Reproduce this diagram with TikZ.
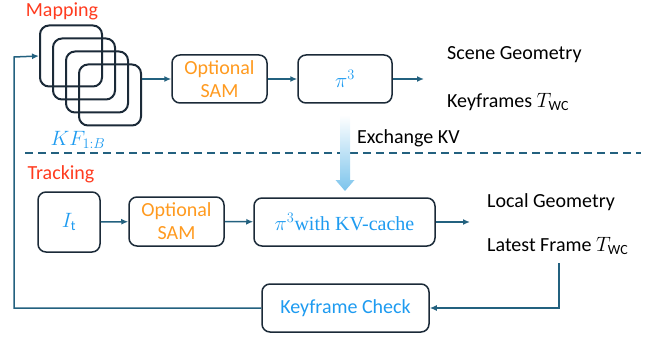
\documentclass[tikz,border=0pt]{standalone}
\usepackage{fontspec}
\setmainfont{Carlito}
\newfontfamily\camfont{Liberation Serif}
\usetikzlibrary{arrows.meta,calc}
\definecolor{boxline}{HTML}{1B2A38}
\definecolor{conn}{HTML}{23617F}
\definecolor{redlbl}{HTML}{FF3B1F}
\definecolor{orangelbl}{HTML}{FF9A1F}
\definecolor{bluelbl}{HTML}{1E9BF0}
\definecolor{kvblue}{HTML}{7CC4EC}
\tikzset{
  rbox/.style={draw=boxline, line width=1.5pt, rounded corners=8pt, align=center, inner sep=0pt},
  stackbox/.style={draw=boxline, line width=2pt, rounded corners=9pt, minimum width=62pt, minimum height=61pt},
  conline/.style={draw=conn, line width=1.5pt},
  conarrow/.style={conline, -{Latex[length=7pt,width=6pt]}},
  txt/.style={font=\fontsize{20}{23}\selectfont, inner sep=0pt},
  sectlbl/.style={txt, text=redlbl},
  outlbl/.style={txt, anchor=west, text=black},
}
\begin{document}
\begin{tikzpicture}[x=1pt,y=-1pt]
\useasboundingbox (0,0) rectangle (646,337);
% section labels
\node[sectlbl] (maplbl) at (62,11) {Mapping};
\node[sectlbl] (trklbl) at (61,174) {Tracking};
% stacked keyframes
\node[stackbox] (s1) at (71,56) {};
\node[stackbox] (s2) at (84,69) {};
\node[stackbox] (s3) at (97,82) {};
\node[stackbox] (s4) at (110,95) {};
\node[txt, text=bluelbl] (kf) at (78,140) {$KF_{1:B}$};
\coordinate (stackout) at (142,79);
% mapping row
\node[rbox, minimum width=95pt, minimum height=48pt, txt, text=orangelbl] (msam) at (219.5,79) {Optional\\SAM};
\node[rbox, minimum width=94pt, minimum height=48pt, txt, text=bluelbl] (mpi) at (345,79) {$\pi^3$};
\coordinate (mout) at (424,79);
\node[outlbl] (scene) at (447,55) {Scene Geometry};
\node[outlbl] (kfpose) at (447,102) {Keyframes $T_{\mathrm{WC}}$};
% exchange
\node[outlbl] (exkv) at (357,138) {Exchange KV};
\coordinate (dl) at (25,153);
\coordinate (dr) at (641,153);
\draw[conn, line width=1.5pt, dash pattern=on 8pt off 5pt] (dl) -- (dr);
\shade[top color=white, bottom color=kvblue] (340,115) -- (350,115) -- (350,180) -- (354.5,180) -- (345,191) -- (335.5,180) -- (340,180) -- cycle;
% tracking row
\node[rbox, minimum width=62pt, minimum height=60pt, txt, text=bluelbl] (it) at (69,222) {$I_{\mathrm{t}}$};
\node[rbox, minimum width=95pt, minimum height=49pt, txt, text=orangelbl] (tsam) at (176.5,221.5) {Optional\\SAM};
\node[rbox, minimum width=181pt, minimum height=48pt, txt, text=bluelbl] (tpi) at (344.5,222) {$\pi^3$\camfont with KV-cache};
\coordinate (tout) at (470,222);
\node[outlbl] (localg) at (487,202) {Local Geometry};
\node[outlbl] (latest) at (487,246) {Latest Frame $T_{\mathrm{WC}}$};
\coordinate (lattop) at (559,263);
\coordinate (latcorner) at (559,308);
% keyframe check
\node[rbox, minimum width=167pt, minimum height=48pt, txt, text=bluelbl] (kc) at (345.5,308) {Keyframe Check};
\coordinate (fbl) at (14,308);
\coordinate (fbt) at (14,57);
% connectors
\draw[conarrow] (stackout) -- (msam);
\draw[conarrow] (msam) -- (mpi);
\draw[conarrow] (mpi) -- (mout);
\draw[conarrow] (it) -- (tsam);
\draw[conarrow] (tsam) -- (tpi);
\draw[conarrow] (tpi) -- (tout);
\draw[conarrow] (lattop) -- (latcorner) -- (kc.east);
\draw[conarrow] (kc.west) -- (fbl) -- (fbt) -- (s1.west);
\end{tikzpicture}
\end{document}
